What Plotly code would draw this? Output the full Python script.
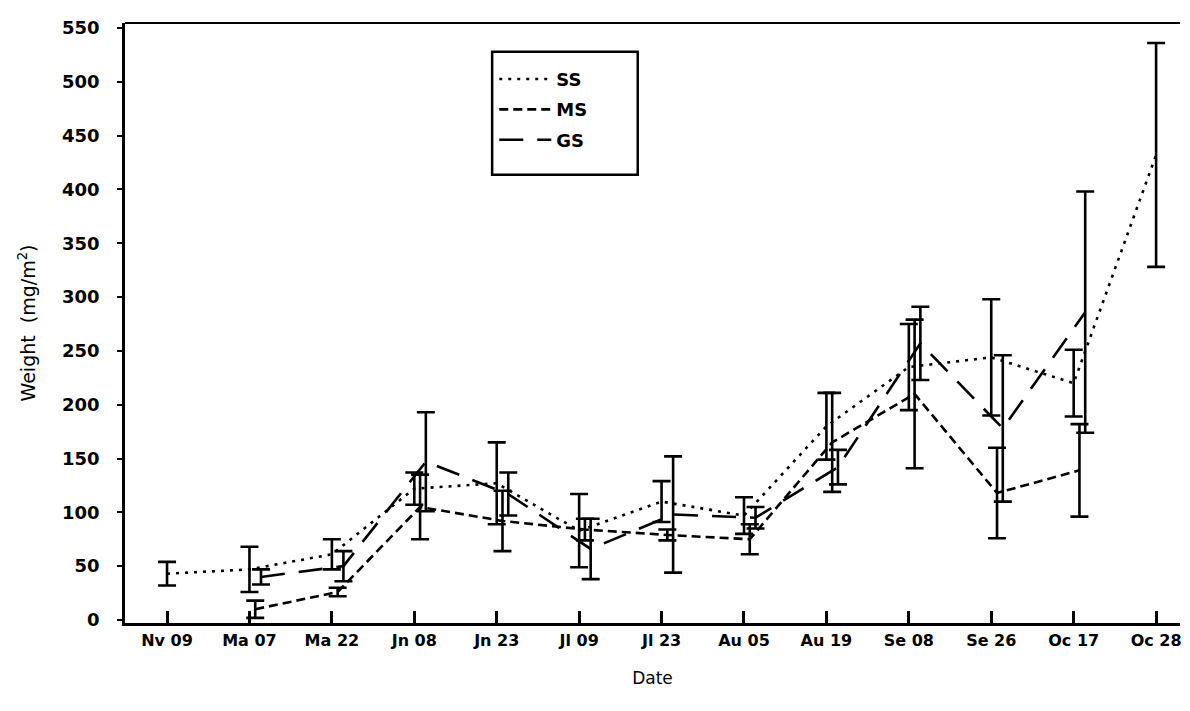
import plotly.graph_objects as go

categories = ["Nv 09", "Ma 07", "Ma 22", "Jn 08", "Jn 23", "Jl 09", "Jl 23",
              "Au 05", "Au 19", "Se 08", "Se 26", "Oc 17", "Oc 28"]

ss_mean = [43, 47, 61, 122, 127, 83, 110, 97, 180, 235, 244, 220, 432]
ss_err = [11, 21, 14, 15, 38, 34, 19, 17, 31, 40, 54, 31, 104]

ms_mean = [None, 10, 26, 105, 92, 84, 79, 75, 165, 210, 118, 139, None]
ms_err = [None, 8, 4, 30, 28, 10, 5, 14, 46, 69, 42, 43, None]

gs_mean = [None, 40, 50, 147, 117, 66, 98, 95, 142, 257, 178, 286, None]
gs_err = [None, 7, 14, 46, 20, 28, 54, 10, 16, 34, 68, 112, None]

y_ticks = [0, 50, 100, 150, 200, 250, 300, 350, 400, 450, 500, 550]

series = [
    ("SS", ss_mean, ss_err, 0.0, "3px,6px"),
    ("MS", ms_mean, ms_err, 0.07, "9px,5px"),
    ("GS", gs_mean, gs_err, 0.14, "24px,14px"),
]

FONT = "DejaVu Sans"
fig = go.Figure()
for i, (name, mean, err, off, dash) in enumerate(series):
    xs = [k + off for k in range(len(categories))]
    fig.add_trace(go.Scatter(
        x=xs, y=mean, name=name, mode="lines",
        line=dict(color="black", width=2.6, dash=dash),
        error_y=dict(type="data", array=err, visible=True,
                     color="black", thickness=2.6, width=9),
        legendgroup=name,
    ))

fig.update_layout(
    width=1182, height=703,
    margin=dict(l=117, r=10, t=15, b=88),
    paper_bgcolor="white", plot_bgcolor="white",
    font=dict(family=FONT, color="black"),
    showlegend=True,
    legend=dict(x=0.350, y=0.937, xanchor="left", yanchor="top",
                bgcolor="rgba(0,0,0,0)", borderwidth=0,
                font=dict(size=18, family=FONT, weight="bold"),
                tracegroupgap=4, itemwidth=52),
    xaxis=dict(
        range=[-0.51, 12.29], automargin=False,
        tickmode="array", tickvals=list(range(len(categories))),
        ticktext=categories,
        ticks="inside", ticklen=12, tickwidth=2.5, tickcolor="black",
        showline=True, linecolor="black", linewidth=2.5,
        showgrid=False, zeroline=False,
        tickfont=dict(size=16, family=FONT, weight="bold"),
        ticklabelstandoff=1,
        title=dict(text="Date", font=dict(size=17, family=FONT), standoff=24),
    ),
    yaxis=dict(
        range=[-2.8, 554.6], automargin=False,
        tickmode="array", tickvals=y_ticks,
        ticks="outside", ticklen=5, tickwidth=2, tickcolor="black",
        showline=True, linecolor="black", linewidth=2.5,
        showgrid=False, zeroline=False,
        tickfont=dict(size=18, family=FONT, weight="bold"),
        ticklabelstandoff=14,
        title=dict(text="Weight  (mg/m<sup>2</sup>)",
                   font=dict(size=19, family=FONT), standoff=22),
    ),
    shapes=[
        dict(type="line", xref="paper", yref="paper", x0=0, x1=1, y0=1, y1=1,
             line=dict(color="black", width=2)),
        dict(type="rect", xref="paper", yref="paper", x0=0.348, x1=0.486,
             y0=0.747, y1=0.952, line=dict(color="black", width=2.5)),
    ],
)

fig.write_html("out.html")
